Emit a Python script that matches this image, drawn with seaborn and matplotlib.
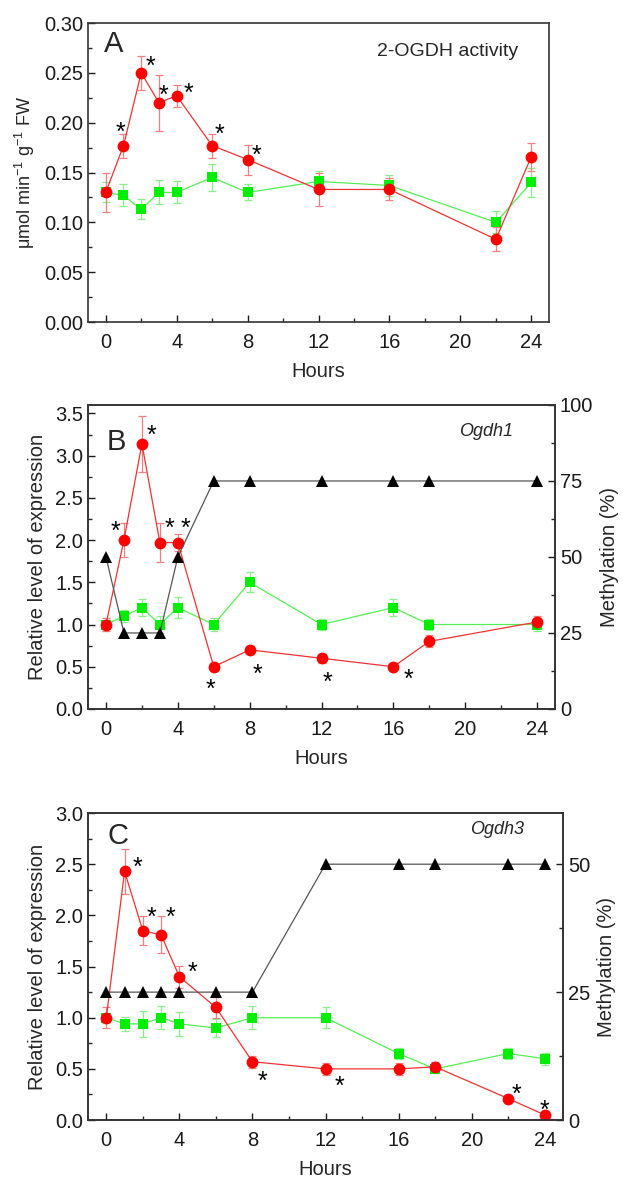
import numpy as np
import pandas as pd
import seaborn as sns
import matplotlib.pyplot as plt
from matplotlib.ticker import MultipleLocator

# Panel A - 2-OGDH activity
hours_a = [0, 1, 2, 3, 4, 6, 8, 12, 16, 22, 24]
red_a = [0.130, 0.177, 0.250, 0.220, 0.227, 0.177, 0.163, 0.133, 0.133, 0.083, 0.166]
red_a_err = [0.020, 0.012, 0.017, 0.028, 0.011, 0.012, 0.015, 0.017, 0.011, 0.012, 0.014]
green_a = [0.130, 0.127, 0.113, 0.130, 0.130, 0.145, 0.130, 0.141, 0.137, 0.100, 0.140]
green_a_err = [0.010, 0.011, 0.010, 0.012, 0.011, 0.014, 0.008, 0.011, 0.011, 0.011, 0.015]
stars_a = [1, 2, 3, 4, 6, 8]

# Panel B - Ogdh1
hours_b = [0, 1, 2, 3, 4, 6, 8, 12, 16, 18, 24]
red_b = [1.00, 2.00, 3.14, 1.97, 1.97, 0.50, 0.70, 0.60, 0.50, 0.80, 1.03]
red_b_err = [0.08, 0.20, 0.33, 0.23, 0.10, 0.04, 0.04, 0.05, 0.04, 0.07, 0.07]
green_b = [1.00, 1.10, 1.20, 1.00, 1.20, 1.00, 1.50, 1.00, 1.20, 1.00, 1.00]
green_b_err = [0.08, 0.07, 0.10, 0.10, 0.12, 0.08, 0.12, 0.07, 0.10, 0.07, 0.08]
meth_b = [50, 25, 25, 25, 50, 75, 75, 75, 75, 75, 75]
stars_b = [1, 2, 3, 4, 6, 8, 12, 16]

# Panel C - Ogdh3
hours_c = [0, 1, 2, 3, 4, 6, 8, 12, 16, 18, 22, 24]
red_c = [1.00, 2.43, 1.85, 1.81, 1.40, 1.10, 0.57, 0.50, 0.50, 0.52, 0.21, 0.05]
red_c_err = [0.10, 0.22, 0.14, 0.18, 0.11, 0.10, 0.06, 0.06, 0.06, 0.05, 0.03, 0.02]
green_c = [1.00, 0.94, 0.94, 1.00, 0.94, 0.90, 1.00, 1.00, 0.65, 0.50, 0.65, 0.60]
green_c_err = [0.05, 0.07, 0.13, 0.11, 0.12, 0.09, 0.11, 0.10, 0.05, 0.04, 0.05, 0.06]
meth_c = [25, 25, 25, 25, 25, 25, 25, 50, 50, 50, 50, 50]
stars_c = [1, 2, 3, 4, 8, 12, 22, 24]

# star offsets in pixels (dx, dy) from the red point
star_off_a = [(-3, 21), (9, 14), (5, 15), (12, 10), (7, 19), (9, 12)]
star_off_b = [(-8, 16), (10, 16), (10, 22), (8, 22), (-3, -15), (8, -17), (6, -17), (15, -5)]
star_off_c = [(13, 11), (9, 21), (9, 25), (13, 12), (10, -12), (14, -10), (8, 12), (0, 12)]

sns.set_style('ticks')
plt.rcParams['font.family'] = ['Liberation Sans', 'DejaVu Sans']
plt.rcParams['xtick.direction'] = 'in'
plt.rcParams['ytick.direction'] = 'in'
plt.rcParams['axes.edgecolor'] = '#333333'
plt.rcParams['axes.linewidth'] = 1.2
plt.rcParams['mathtext.default'] = 'regular'

RED = '#ff0000'
GREEN = '#00ee00'
FS = 14.5


def draw_series(ax, hours, vals, errs, color, line_color, err_color, marker, ms):
    ax.errorbar(hours, vals, yerr=errs, fmt='none', ecolor=err_color,
                elinewidth=0.9, capsize=3, capthick=0.9, zorder=2)
    df = pd.DataFrame({'h': hours, 'v': vals})
    sns.lineplot(data=df, x='h', y='v', ax=ax, color=line_color, linewidth=0.9,
                 marker=marker, markersize=ms, markerfacecolor=color,
                 markeredgecolor=color, markeredgewidth=0, sort=False, zorder=3)


def add_stars(ax, hours, vals, stars, offsets):
    for h, (dx, dy) in zip(stars, offsets):
        v = vals[hours.index(h)]
        ax.annotate('*', (h, v), xytext=(dx, dy - 8), textcoords='offset pixels',
                    ha='center', va='center', fontsize=18, color='black')


def style_axis(ax, ymax, ymajor, yminor):
    ax.set_xlim(-1, 25)
    ax.set_ylim(0, ymax)
    ax.xaxis.set_major_locator(MultipleLocator(4))
    ax.xaxis.set_minor_locator(MultipleLocator(2))
    ax.yaxis.set_major_locator(MultipleLocator(ymajor))
    ax.yaxis.set_minor_locator(MultipleLocator(yminor))
    ax.tick_params(which='major', length=5, width=1, labelsize=FS, colors='#1a1a1a')
    ax.tick_params(which='minor', length=3, width=1)
    ax.tick_params(axis='x', pad=8)
    ax.set_xlabel('Hours', fontsize=FS, labelpad=7)


def style_twin(ax, ymax):
    ax.set_ylim(0, ymax)
    ax.yaxis.set_major_locator(MultipleLocator(25))
    ax.yaxis.set_minor_locator(MultipleLocator(12.5))
    ax.tick_params(which='major', length=5, width=1, labelsize=FS, colors='#1a1a1a')
    ax.tick_params(which='minor', length=3, width=1)
    ax.set_ylabel('Methylation (%)', fontsize=FS, labelpad=5)


fig = plt.figure(figsize=(6.23, 11.8), dpi=100)

# ---- Panel A ----
ax_a = fig.add_axes([0.1413, 0.7271, 0.740, 0.2534])
draw_series(ax_a, hours_a, green_a, green_a_err, GREEN, '#55ee55', '#88ee88', 's', 7)
draw_series(ax_a, hours_a, red_a, red_a_err, RED, '#ee3333', '#f08080', 'o', 8.5)
add_stars(ax_a, hours_a, red_a, stars_a, star_off_a)
style_axis(ax_a, 0.30, 0.05, 0.025)
ax_a.yaxis.set_major_formatter(plt.FuncFormatter(lambda v, p: f'{v:.2f}'))
ax_a.set_ylabel('μmol min$^{-1}$ g$^{-1}$ FW', fontsize=13, labelpad=5)
ax_a.text(0.035, 0.975, 'A', transform=ax_a.transAxes, fontsize=21, va='top', ha='left')
ax_a.text(0.933, 0.905, '2-OGDH activity', transform=ax_a.transAxes, fontsize=14,
          va='center', ha='right')

# ---- Panel B ----
ax_b = fig.add_axes([0.1413, 0.3992, 0.7496, 0.2576])
draw_series(ax_b, hours_b, green_b, green_b_err, GREEN, '#55ee55', '#88ee88', 's', 7)
draw_series(ax_b, hours_b, red_b, red_b_err, RED, '#ee3333', '#f08080', 'o', 8.5)
add_stars(ax_b, hours_b, red_b, stars_b, star_off_b)
style_axis(ax_b, 3.6, 0.5, 0.25)
ax_b.yaxis.set_major_formatter(plt.FuncFormatter(lambda v, p: f'{v:.1f}'))
ax_b.set_ylabel('Relative level of expression', fontsize=FS, labelpad=6)
ax_b.text(0.04, 0.925, 'B', transform=ax_b.transAxes, fontsize=21, va='top', ha='left')
ax_b.text(0.91, 0.914, 'Ogdh1', transform=ax_b.transAxes, fontsize=13,
          style='italic', va='center', ha='right')
ax_b2 = ax_b.twinx()
sns.lineplot(x=hours_b, y=meth_b, ax=ax_b2, color='#555555', linewidth=0.9,
             marker='^', markersize=9, markerfacecolor='black', markeredgecolor='black',
             markeredgewidth=0, sort=False)
style_twin(ax_b2, 100)

# ---- Panel C ----
ax_c = fig.add_axes([0.1413, 0.0508, 0.7624, 0.2602])
draw_series(ax_c, hours_c, green_c, green_c_err, GREEN, '#55ee55', '#88ee88', 's', 7)
draw_series(ax_c, hours_c, red_c, red_c_err, RED, '#ee3333', '#f08080', 'o', 8.5)
add_stars(ax_c, hours_c, red_c, stars_c, star_off_c)
style_axis(ax_c, 3.0, 0.5, 0.25)
ax_c.yaxis.set_major_formatter(plt.FuncFormatter(lambda v, p: f'{v:.1f}'))
ax_c.set_ylabel('Relative level of expression', fontsize=FS, labelpad=6)
ax_c.text(0.04, 0.97, 'C', transform=ax_c.transAxes, fontsize=21, va='top', ha='left')
ax_c.text(0.918, 0.945, 'Ogdh3', transform=ax_c.transAxes, fontsize=13,
          style='italic', va='center', ha='right')
ax_c2 = ax_c.twinx()
sns.lineplot(x=hours_c, y=meth_c, ax=ax_c2, color='#555555', linewidth=0.9,
             marker='^', markersize=9, markerfacecolor='black', markeredgecolor='black',
             markeredgewidth=0, sort=False)
style_twin(ax_c2, 60)

plt.savefig('out.png', dpi=100)
